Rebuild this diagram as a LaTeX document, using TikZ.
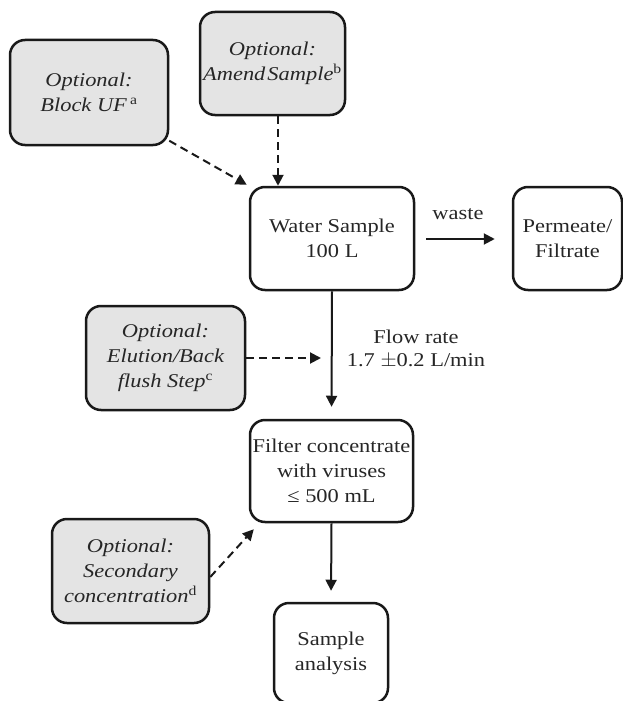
\documentclass[tikz,border=0pt]{standalone}
\usepackage{fontspec}
\setmainfont[FakeStretch=1.15]{Liberation Serif}
\usetikzlibrary{arrows.meta,calc}
\definecolor{optgray}{HTML}{E4E4E4}
\begin{document}
\begin{tikzpicture}[x=1pt,y=-1pt,
  box/.style={draw=black!90, line width=2.5pt, rounded corners=15pt, align=center, inner sep=0pt,
    font=\fontsize{19.5}{25}\selectfont, text=black!85},
  optbox/.style={box, fill=optgray},
  solidarr/.style={line width=2pt, draw=black!90, -{Triangle[length=11pt,width=11pt]}},
  dasharr/.style={line width=2pt, draw=black!90, dashed, dash pattern=on 8pt off 5pt, -{Triangle[length=11pt,width=11pt]}},
  lbl/.style={font=\fontsize{19.5}{23}\selectfont, text=black!85, align=center, inner sep=0pt}]
\useasboundingbox (0,0) rectangle (623,701);
% boxes
\node[optbox, minimum width=158pt, minimum height=105pt] (buf) at (89,92.5) {\itshape Optional:\\\itshape Block UF\,\textsuperscript{\upshape a}};
\node[optbox, minimum width=145pt, minimum height=103pt] (amend) at (272.5,63.5) {\itshape Optional:\\\itshape Amend\kern2pt Sample\textsuperscript{\upshape b}};
\node[box, minimum width=164pt, minimum height=103pt] (ws) at (332,238.5) {Water Sample\\100 L};
\node[box, minimum width=109pt, minimum height=103pt] (perm) at (567.5,238.5) {Permeate/\\Filtrate};
\node[optbox, minimum width=159pt, minimum height=104pt] (el) at (165.5,358) {\itshape Optional:\\\itshape Elution/Back\\\itshape flush Step\textsuperscript{\upshape c}};
\node[box, minimum width=163pt, minimum height=102pt] (fc) at (331.5,471) {Filter concentrate\\with viruses\\≤ 500 mL};
\node[optbox, minimum width=157pt, minimum height=104pt] (sec) at (130.5,571) {\itshape Optional:\\\itshape Secondary\\\itshape concentration\textsuperscript{\upshape d}};
\node[box, minimum width=114pt, minimum height=100pt] (sa) at (331,653) {Sample\\analysis};
% labels
\node[lbl] (waste) at (458,214) {waste};
\node[lbl] (flow) at (416,349) {Flow rate\\1.7 $\pm$0.2 L/min};
\coordinate (elend) at (321,358);
% connectors
\draw[solidarr, shorten <=11pt, shorten >=17pt] (ws.east |- 0,239) -- (perm.west |- 0,239);
\draw[solidarr, shorten >=12pt] (ws.south) -- (fc.north);
\draw[solidarr, shorten >=11pt] (fc.south) -- (sa.north);
\draw[dasharr] (buf.-31) -- ([shift={(-2,-1)}]ws.north west);
\draw[dasharr] ([xshift=5.5]amend.south) -- ([xshift=5.5]amend.south |- ws.north);
\draw[dasharr] (el.east) -- (elend);
\draw[dasharr] ([yshift=-6]sec.east) -- ([shift={(5,6)}]fc.south west);
\end{tikzpicture}
\end{document}
